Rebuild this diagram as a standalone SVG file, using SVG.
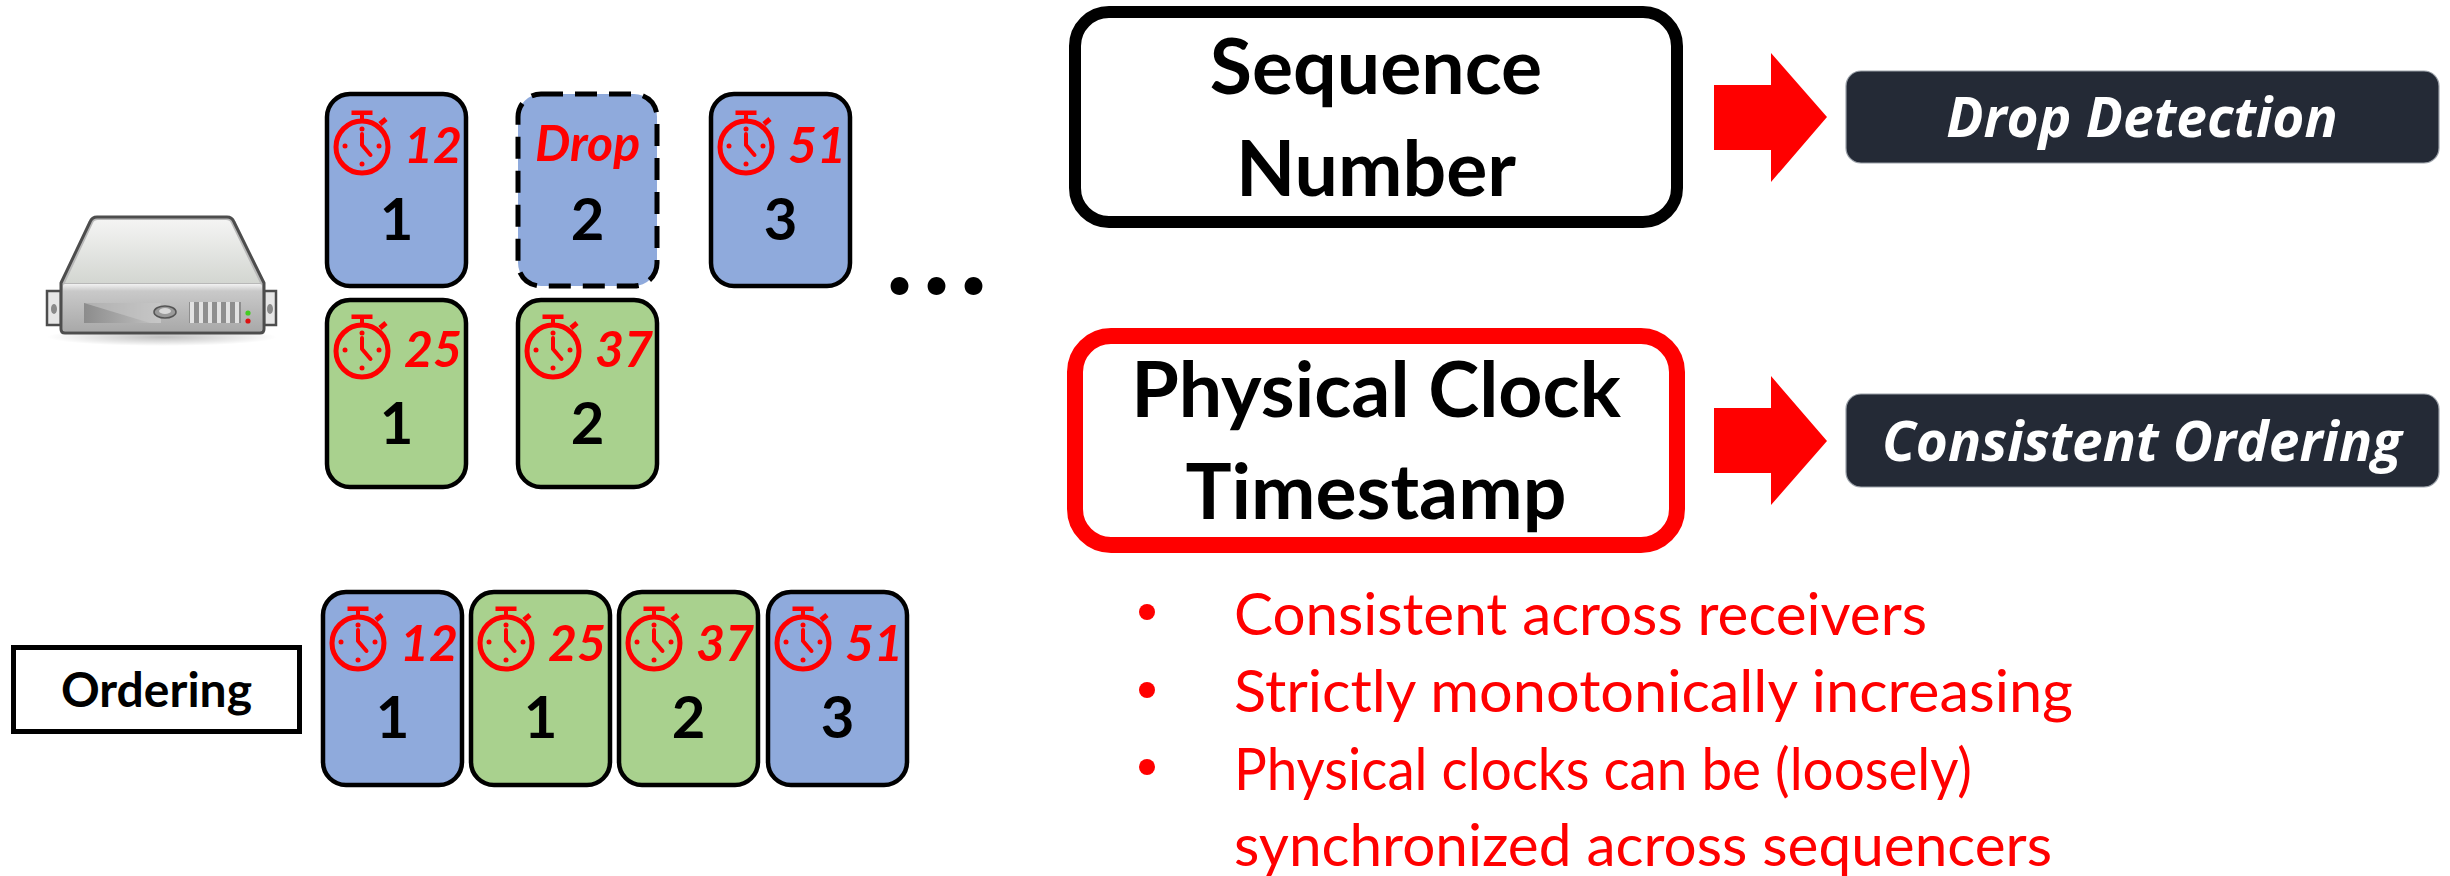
<svg xmlns="http://www.w3.org/2000/svg" xmlns:xlink="http://www.w3.org/1999/xlink" width="2450" height="876" viewBox="0 0 2450 876">
  <style>
    .card { stroke: #000; stroke-width: 4.5; }
    .blue { fill: #8FAADC; }
    .green { fill: #A9D18E; }
    .dashed { stroke-dasharray: 22 12; stroke-width: 5; }
    .ts { font-family: Lato, "Liberation Sans", sans-serif; font-weight: 700; font-style: italic; font-size: 50px; fill: #FF0000; }
    .num { font-family: Lato, "Liberation Sans", sans-serif; font-weight: 700; font-size: 58px; fill: #000; text-anchor: middle; }
    .big { font-family: Lato, "Liberation Sans", sans-serif; font-weight: 700; font-size: 77px; fill: #000; text-anchor: middle; }
    .tag { font-family: "Open Sans", "Liberation Sans", sans-serif; font-weight: 700; font-style: italic; font-size: 55px; fill: #fff; text-anchor: middle; }
    .bullet { font-family: Lato, "Liberation Sans", sans-serif; font-size: 59px; fill: #FF0000; }
    .sw { fill: none; stroke: #FF0000; }
  </style>
  <defs>
    <!-- stopwatch glyph, centred on its dial -->
    <g id="stopwatch">
      <circle class="sw" r="26" stroke-width="5"/>
      <rect x="-10.5" y="-36.5" width="21" height="4.5" fill="#FF0000"/>
      <rect x="-2" y="-33" width="4" height="7" fill="#FF0000"/>
      <line class="sw" x1="18" y1="-23" x2="24" y2="-28" stroke-width="5"/>
      <polyline class="sw" points="0,-13 0,-2 8.5,8" stroke-width="4" stroke-linecap="round" stroke-linejoin="round"/>
      <circle cx="0" cy="-18" r="2.5" fill="#FF0000"/>
      <circle cx="-17" cy="-1" r="2.5" fill="#FF0000"/>
      <circle cx="17" cy="-1" r="2.5" fill="#FF0000"/>
      <circle cx="0" cy="17" r="2.5" fill="#FF0000"/>
    </g>
    <linearGradient id="srvTop" x1="0" y1="0" x2="0" y2="1">
      <stop offset="0" stop-color="#f4f4f3"/>
      <stop offset="1" stop-color="#d3d6d1"/>
    </linearGradient>
    <linearGradient id="srvFront" x1="0" y1="0" x2="0" y2="1">
      <stop offset="0" stop-color="#f2f2f2"/>
      <stop offset="0.15" stop-color="#c9c9c9"/>
      <stop offset="1" stop-color="#a9a9a9"/>
    </linearGradient>
    <linearGradient id="srvSlot" x1="0" y1="0" x2="1" y2="0">
      <stop offset="0" stop-color="#8c8c8c"/>
      <stop offset="1" stop-color="#c4c4c4"/>
    </linearGradient>
    <radialGradient id="srvShadow" cx="0.5" cy="0.5" r="0.5">
      <stop offset="0" stop-color="#000" stop-opacity="0.25"/>
      <stop offset="1" stop-color="#000" stop-opacity="0"/>
    </radialGradient>
  </defs>

  <!-- rack server -->
  <g id="server">
    <ellipse cx="162" cy="337" rx="115" ry="9" fill="url(#srvShadow)"/>
    <rect x="47" y="291" width="14" height="34" fill="#e6e6e6" stroke="#4d4d4d" stroke-width="2.5"/>
    <rect x="264" y="291" width="12" height="34" fill="#e6e6e6" stroke="#4d4d4d" stroke-width="2.5"/>
    <ellipse cx="54" cy="309" rx="3" ry="5" fill="#8a8a8a"/>
    <ellipse cx="270" cy="309" rx="3" ry="5" fill="#8a8a8a"/>
    <path d="M97,217 L227,217 Q232,217 234,222 L264,283 L264,329 Q264,333 260,333 L65,333 Q61,333 61,329 L61,283 L90,222 Q92,217 97,217 Z" fill="#b8b8b8" stroke="#4d4d4d" stroke-width="3" stroke-linejoin="round"/>
    <path d="M98,220 L226,220 Q230,220 231,223 L260,283 L65,283 L93,223 Q94,220 98,220 Z" fill="url(#srvTop)"/>
    <rect x="63" y="284" width="199" height="47" rx="2" fill="url(#srvFront)"/>
    <rect x="84" y="303" width="77" height="20" fill="url(#srvSlot)"/>
    <polygon points="84,303 161,303 161,323 150,323" fill="#c8c8c8" opacity="0.6"/>
    <ellipse cx="165" cy="312" rx="11" ry="6" fill="#9a9a9a" stroke="#555" stroke-width="1.5"/>
    <ellipse cx="165" cy="311" rx="6" ry="3" fill="#d8d8d8"/>
    <rect x="189" y="302" width="52" height="21" fill="#8e8e8e"/>
    <g fill="#e2e2e2">
      <rect x="190" y="302" width="4" height="21"/>
      <rect x="199" y="302" width="4" height="21"/>
      <rect x="208" y="302" width="4" height="21"/>
      <rect x="217" y="302" width="4" height="21"/>
      <rect x="226" y="302" width="4" height="21"/>
      <rect x="235" y="302" width="4" height="21"/>
    </g>
    <circle cx="248" cy="313" r="2.6" fill="#44cc22"/>
    <circle cx="248" cy="321" r="2.6" fill="#dd1111"/>
  </g>

  <!-- sequencer 1 packets (blue) -->
  <g id="pkt-blue-1">
    <rect class="card blue" x="327" y="94" width="139" height="192" rx="23"/>
    <use xlink:href="#stopwatch" x="362" y="147"/>
    <text class="ts" x="404" y="163">12</text>
    <text class="num" x="396.5" y="240">1</text>
  </g>
  <g id="pkt-blue-2">
    <rect class="card blue dashed" x="518" y="94" width="139" height="192" rx="23"/>
    <text class="ts" x="587.5" y="161" font-size="54" text-anchor="middle">Drop</text>
    <text class="num" x="587.5" y="240">2</text>
  </g>
  <g id="pkt-blue-3">
    <rect class="card blue" x="711" y="94" width="139" height="192" rx="23"/>
    <use xlink:href="#stopwatch" x="746" y="147"/>
    <text class="ts" x="788" y="163">51</text>
    <text class="num" x="780.5" y="240">3</text>
  </g>

  <!-- sequencer 2 packets (green) -->
  <g id="pkt-green-1">
    <rect class="card green" x="327" y="300" width="139" height="187" rx="23"/>
    <use xlink:href="#stopwatch" x="362" y="351"/>
    <text class="ts" x="404" y="367">25</text>
    <text class="num" x="396.5" y="444">1</text>
  </g>
  <g id="pkt-green-2">
    <rect class="card green" x="518" y="300" width="139" height="187" rx="23"/>
    <use xlink:href="#stopwatch" x="553" y="351"/>
    <text class="ts" x="595" y="367">37</text>
    <text class="num" x="587.5" y="444">2</text>
  </g>

  <g id="ellipsis">
    <text x="941" y="294" font-family="Lato, 'Liberation Sans', sans-serif" font-weight="700" font-size="118" text-anchor="middle" letter-spacing="9">...</text>
  </g>

  <!-- merged order -->
  <g id="ordering-label">
    <rect x="13.5" y="647.5" width="286" height="84" fill="#fff" stroke="#000" stroke-width="5"/>
    <text x="156.5" y="707" font-family="Lato, 'Liberation Sans', sans-serif" font-weight="700" font-size="48" text-anchor="middle">Ordering</text>
  </g>
  <g id="ord-1">
    <rect class="card blue" x="323" y="592" width="139" height="193" rx="23"/>
    <use xlink:href="#stopwatch" x="358" y="643"/>
    <text class="ts" x="400" y="661">12</text>
    <text class="num" x="392.5" y="738">1</text>
  </g>
  <g id="ord-2">
    <rect class="card green" x="471" y="592" width="139" height="193" rx="23"/>
    <use xlink:href="#stopwatch" x="506" y="643"/>
    <text class="ts" x="548" y="661">25</text>
    <text class="num" x="540.5" y="738">1</text>
  </g>
  <g id="ord-3">
    <rect class="card green" x="619" y="592" width="139" height="193" rx="23"/>
    <use xlink:href="#stopwatch" x="654" y="643"/>
    <text class="ts" x="696" y="661">37</text>
    <text class="num" x="688.5" y="738">2</text>
  </g>
  <g id="ord-4">
    <rect class="card blue" x="768" y="592" width="139" height="193" rx="23"/>
    <use xlink:href="#stopwatch" x="803" y="643"/>
    <text class="ts" x="845" y="661">51</text>
    <text class="num" x="837.5" y="738">3</text>
  </g>

  <!-- header mechanisms -->
  <g id="seq-number">
    <rect x="1075" y="12" width="602" height="210" rx="34" fill="#fff" stroke="#000" stroke-width="12"/>
    <text class="big" x="1376" y="94">Sequence</text>
    <text class="big" x="1376" y="196">Number</text>
  </g>
  <g id="phys-clock">
    <rect x="1075" y="336" width="602" height="209" rx="36" fill="#fff" stroke="#FF0000" stroke-width="16"/>
    <text class="big" x="1376" y="417">Physical Clock</text>
    <text class="big" x="1376" y="519">Timestamp</text>
  </g>

  <g id="drop-detection">
    <rect x="1846" y="71" width="593" height="92" rx="15" fill="#242A36" stroke="#9aa0a8" stroke-width="1.2"/>
    <text class="tag" x="2142" y="137">Drop Detection</text>
  </g>
  <g id="consistent-ordering">
    <rect x="1846" y="394" width="593" height="93" rx="15" fill="#242A36" stroke="#9aa0a8" stroke-width="1.2"/>
    <text class="tag" x="2142" y="461">Consistent Ordering</text>
  </g>

  <!-- block arrows -->
  <g id="connectors" fill="#FF0000">
    <polygon points="1714,85 1771,85 1771,53 1827,117 1771,182 1771,150 1714,150"/>
    <polygon points="1714,408 1771,408 1771,376 1827,441 1771,505 1771,473 1714,473"/>
  </g>

  <!-- properties of physical timestamps -->
  <g id="properties">
    <circle cx="1147" cy="612" r="8" fill="#FF0000"/>
    <circle cx="1147" cy="690" r="8" fill="#FF0000"/>
    <circle cx="1147" cy="767" r="8" fill="#FF0000"/>
    <text class="bullet" x="1234" y="635" textLength="693" lengthAdjust="spacingAndGlyphs">Consistent across receivers</text>
    <text class="bullet" x="1234" y="712" textLength="839" lengthAdjust="spacingAndGlyphs">Strictly monotonically increasing</text>
    <text class="bullet" x="1234" y="790" textLength="738" lengthAdjust="spacingAndGlyphs">Physical clocks can be (loosely)</text>
    <text class="bullet" x="1234" y="866" textLength="818" lengthAdjust="spacingAndGlyphs">synchronized across sequencers</text>
  </g>
</svg>
